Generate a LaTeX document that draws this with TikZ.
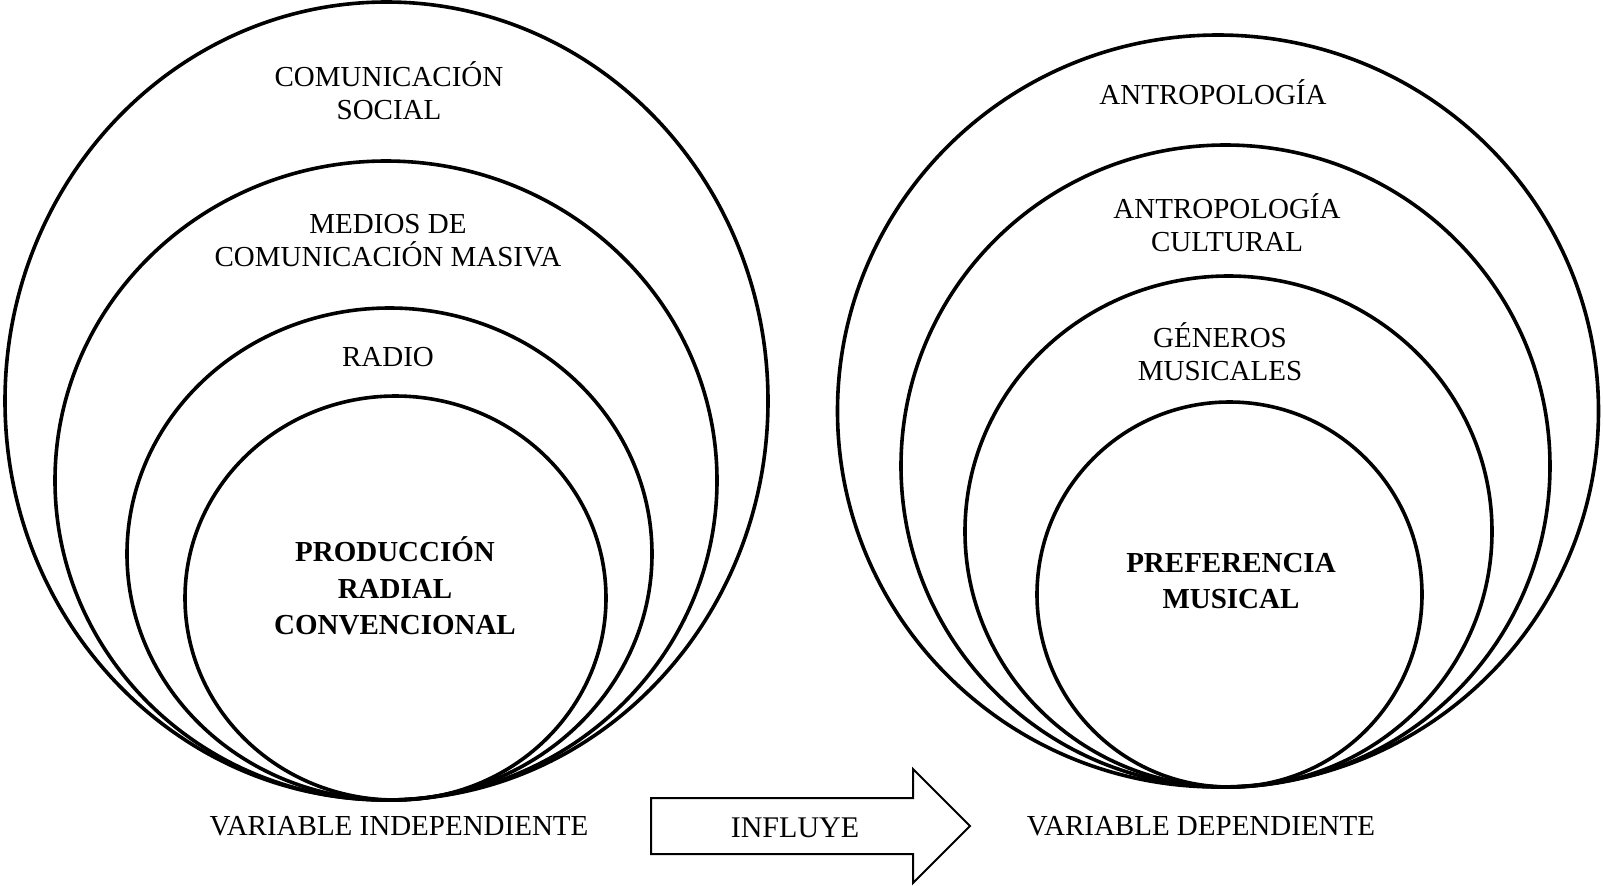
\documentclass[tikz,border=0pt]{standalone}
\usepackage{fontspec}
\setmainfont{Liberation Serif}
\begin{document}
\begin{tikzpicture}[x=0.5pt,y=-0.5pt,
  capa/.style={line width=1.8pt},
  texto/.style={align=center,inner sep=0pt,font=\fontsize{14.5}{16.5}\selectfont},
  negrita/.style={align=center,inner sep=0pt,font=\fontsize{14.5}{18.2}\selectfont\bfseries}]
\useasboundingbox (0,0) rectangle (1603,885);
% variable independiente
\draw[capa] (386.5,401) ellipse (381.5 and 399);
\draw[capa] (386,480.5) ellipse (331 and 319.5);
\draw[capa] (389.5,554) ellipse (262.5 and 246);
\draw[capa] (395.5,598) ellipse (210.5 and 202);
\node[texto] (comunicacion) at (389,91) {COMUNICACIÓN\\SOCIAL};
\node[texto] (medios) at (388,241) {MEDIOS DE\\COMUNICACIÓN MASIVA};
\node[texto] (radio) at (388,357) {RADIO};
\node[negrita] (produccion) at (395,586) {PRODUCCIÓN\\RADIAL\\CONVENCIONAL};
\node[texto] (indep) at (399,826) {VARIABLE INDEPENDIENTE};
% variable dependiente
\draw[capa] (1218,411) ellipse (380.5 and 376);
\draw[capa] (1225.5,466) ellipse (324.5 and 321);
\draw[capa] (1228.5,531.5) ellipse (263.5 and 255.5);
\draw[capa] (1229.5,594.5) ellipse (192.5 and 192.5);
\node[texto] (antropologia) at (1213,92) {ANTROPOLOGÍA};
\node[texto] (cultural) at (1227,223) {ANTROPOLOGÍA\\CULTURAL};
\node[texto] (generos) at (1220,351.5) {GÉNEROS\\MUSICALES};
\node[negrita] (preferencia) at (1231,581) {PREFERENCIA\\MUSICAL};
\node[texto] (dep) at (1201,826) {VARIABLE DEPENDIENTE};
% flecha
\draw[line width=1pt] (651,798) -- (913,798) -- (913,769) -- (970,826)
  -- (913,883) -- (913,854) -- (651,854) -- cycle;
\node[texto,font=\fontsize{15}{17}\selectfont] (influye) at (795,828) {INFLUYE};
\end{tikzpicture}
\end{document}
